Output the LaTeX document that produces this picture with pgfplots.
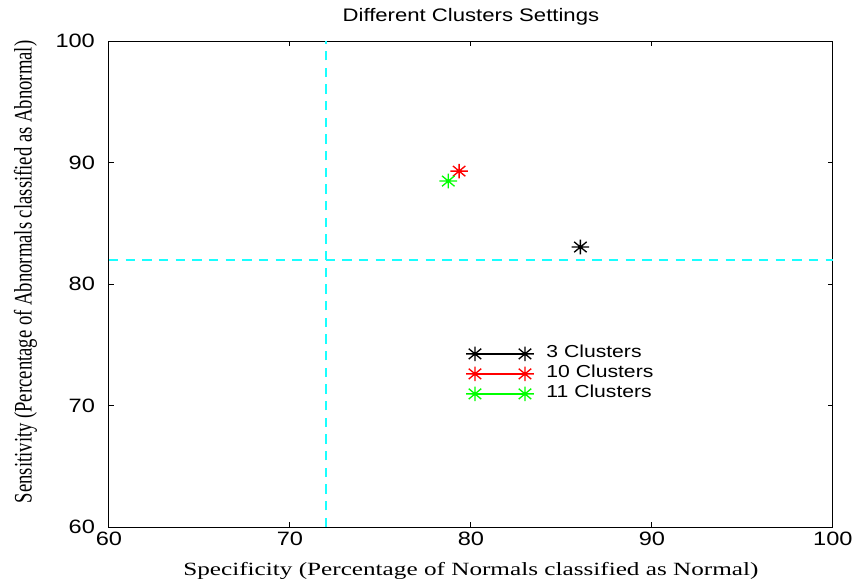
\documentclass[border=0pt]{standalone}
\usepackage{graphicx}
\usepackage{pgfplots}
\pgfplotsset{compat=1.18}
\usepackage{fontspec}
\setmainfont[FakeStretch=1.22]{Liberation Sans}
\newfontfamily\serifx[FakeStretch=1.35]{Liberation Serif}
\newfontfamily\serify{Liberation Serif}
\definecolor{gc}{rgb}{0.1,1,1}
\definecolor{gg}{rgb}{0,1,0}
\definecolor{gr}{rgb}{1,0,0}
\pgfdeclareplotmark{gstar}{%
  \pgfpathmoveto{\pgfqpoint{-1.2\pgfplotmarksize}{0pt}}\pgfpathlineto{\pgfqpoint{1.2\pgfplotmarksize}{0pt}}%
  \pgfpathmoveto{\pgfqpoint{0pt}{-\pgfplotmarksize}}\pgfpathlineto{\pgfqpoint{0pt}{\pgfplotmarksize}}%
  \pgfpathmoveto{\pgfqpoint{-0.85\pgfplotmarksize}{-0.7071\pgfplotmarksize}}\pgfpathlineto{\pgfqpoint{0.85\pgfplotmarksize}{0.7071\pgfplotmarksize}}%
  \pgfpathmoveto{\pgfqpoint{-0.85\pgfplotmarksize}{0.7071\pgfplotmarksize}}\pgfpathlineto{\pgfqpoint{0.85\pgfplotmarksize}{-0.7071\pgfplotmarksize}}%
  \pgfusepathqstroke}
\begin{document}
\begin{tikzpicture}
\begin{axis}[
  scale only axis,
  width=543pt, height=364.5pt,
  xmin=60, xmax=100, ymin=60, ymax=100,
  xtick={60,70,...,100}, ytick={60,70,...,100},
  minor tick num=0,
  tick align=inside,
  major tick length=4pt,
  axis line style={line width=0.75pt},
  tick style={line width=0.75pt, black},
  /pgf/number format/assume math mode=true,
  ticklabel style={font=\fontsize{14.5}{17}\selectfont},
  yticklabel style={xshift=-7pt},
  title={Different Clusters Settings},
  title style={font=\fontsize{13.6}{17}\selectfont, at={(axis description cs:0.5,1)}, anchor=center, yshift=12.5pt, inner ysep=6pt},
  xlabel={\serifx Specificity (Percentage of Normals classified as Normal)},
  ylabel={\scalebox{1}[1.35]{\serify Sensitivity (Percentage of Abnormals classified as Abnormal)}},
  xlabel style={font=\fontsize{14}{17}\selectfont, at={(axis description cs:0.5,0)}, anchor=center, yshift=-33pt},
  ylabel style={font=\fontsize{14}{17}\selectfont, at={(axis description cs:0,0.525)}, anchor=center, yshift=62.5pt, inner ysep=10.5pt},
  legend image code/.code={\draw[#1] plot coordinates {(0pt,0pt) (37.5pt,0pt)};},
  legend style={at={(0.4876,0.383)}, anchor=north west, draw=none, fill=none,
    font=\fontsize{13}{15}\selectfont, row sep=0pt,
    nodes={inner sep=1.5pt, text height=9pt, text depth=3pt},
    /tikz/every odd column/.append style={column sep=8pt}},
  legend cell align=left,
  every axis plot/.append style={line width=1pt},
  mark size=5.5pt,
]
\addplot[draw=gc, dash pattern=on 7pt off 5.5pt, line width=1.3pt, forget plot] coordinates {(72,60) (72,100)};
\addplot[draw=gc, dash pattern=on 7pt off 5.5pt, line width=1.3pt, forget plot] coordinates {(60,82) (100,82)};
\addplot[black, mark=gstar] coordinates {(86.05,83.05)};
\addplot[gr, mark=gstar] coordinates {(79.35,89.3)};
\addplot[gg, mark=gstar] coordinates {(78.75,88.48)};
\legend{3 Clusters, 10 Clusters, 11 Clusters}
\end{axis}
\end{tikzpicture}
\end{document}
